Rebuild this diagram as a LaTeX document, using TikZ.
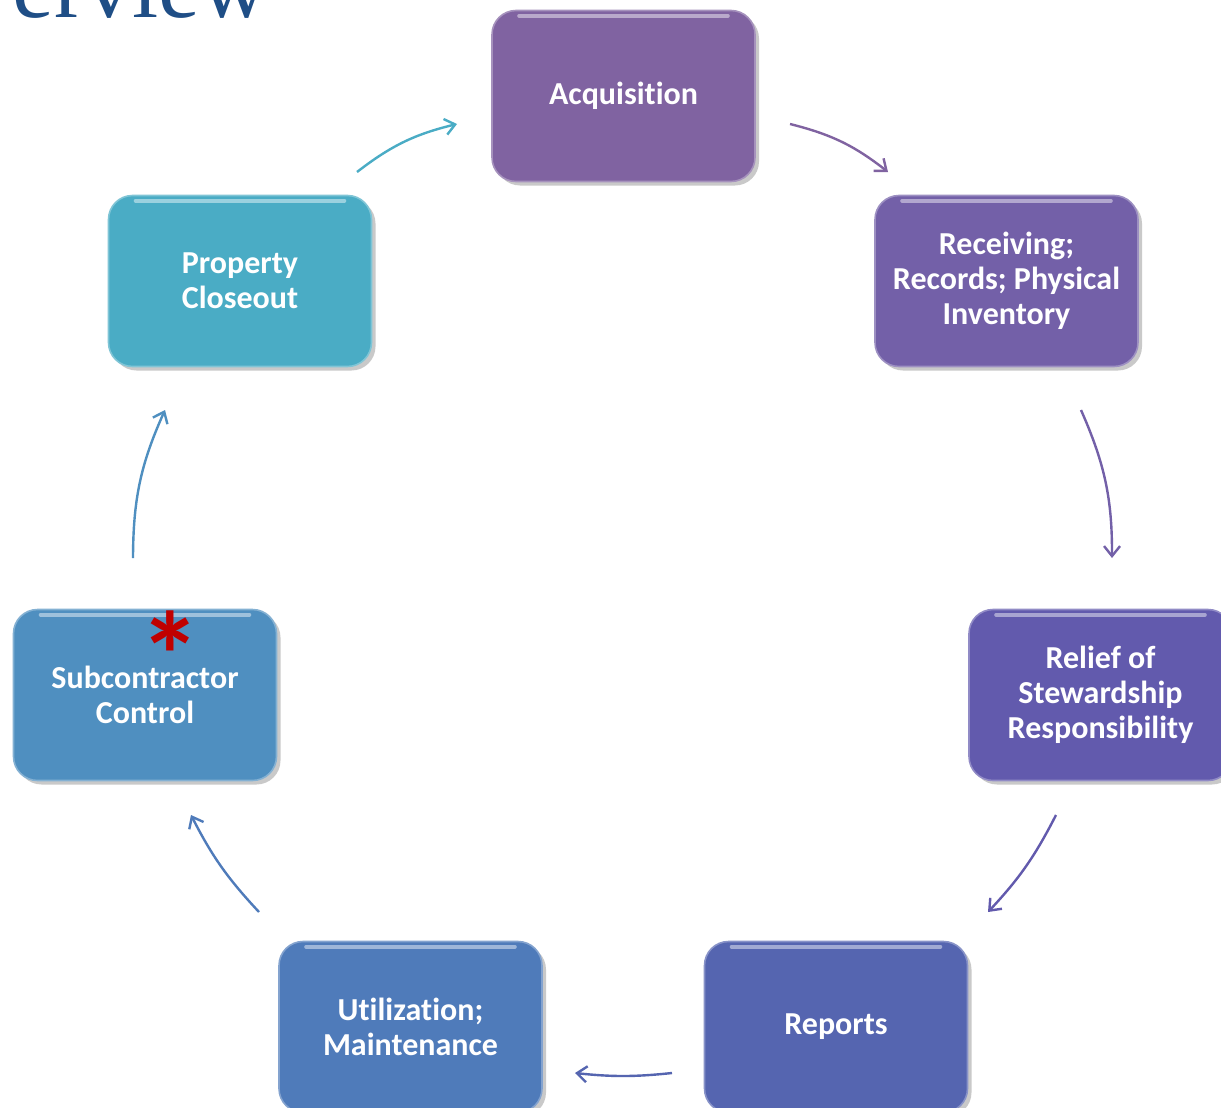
\documentclass[tikz,border=0pt]{standalone}
\usepackage{fontspec}
\setmainfont{Carlito}[Ligatures={NoCommon}]
\newfontfamily\titlefont{Liberation Serif}
\usetikzlibrary{arrows.meta,shadows}
\definecolor{cAcq}{HTML}{8063A1}
\definecolor{cRec}{HTML}{7360A8}
\definecolor{cRel}{HTML}{625AAD}
\definecolor{cRep}{HTML}{5565B0}
\definecolor{cUti}{HTML}{4F7BBA}
\definecolor{cSub}{HTML}{4F8FC0}
\definecolor{cClo}{HTML}{4AACC5}
\definecolor{cTitle}{HTML}{1F4E86}
\definecolor{cStar}{HTML}{C00000}
\tikzset{
  stepbox/.style={rounded corners=12pt, minimum width=131.5pt, minimum height=85.5pt,
    text=white, font=\bfseries\fontsize{16}{17.5}\selectfont, align=center,
    drop shadow={shadow xshift=2pt, shadow yshift=-2pt, opacity=0.35, fill=black!60},
    fill=#1, draw=#1!70!white, line width=0.8pt},
  cyc/.style={draw=#1, line width=1.2pt, -{Straight Barb[length=5pt,width=8pt]}},
  gloss/.style={draw=white, opacity=0.45, line width=2pt, line cap=round},
}
\begin{document}
\begin{tikzpicture}[x=0.5pt,y=-0.5pt]
\useasboundingbox (0,0) rectangle (1221,1108);
\clip (0,0) rectangle (1221,1108);
\fill[white] (0,0) rectangle (1221,1108);
\node[anchor=base west, inner sep=0pt, text=cTitle, font=\titlefont\fontsize{47}{47}\selectfont] (title) at (12,18) {erview};

\node[stepbox=cAcq] (acq) at (623.5,96) {Acquisition};
\node[stepbox=cRec] (rec) at (1006.5,281) {Receiving;\\Records; Physical\\Inventory};
\node[stepbox=cRel] (rel) at (1100.5,695) {Relief of\\Stewardship\\Responsibility};
\node[stepbox=cRep] (rep) at (836,1027) {Reports};
\node[stepbox=cUti] (uti) at (410.5,1027) {Utilization;\\Maintenance};
\node[stepbox=cSub] (sub) at (145,695) {Subcontractor\\Control};
\node[stepbox=cClo] (clo) at (240,281) {Property\\Closeout};

\foreach \n in {acq,rec,rel,rep,uti,sub,clo}{
  \draw[gloss] ([xshift=14pt,yshift=-3pt]\n.north west) -- ([xshift=-14pt,yshift=-3pt]\n.north east);
}

\node[text=cStar, font=\bfseries\fontsize{62}{62}\selectfont, inner sep=0pt] (star) at (170,655) {*};

\coordinate (a1) at (357,172); \coordinate (a2) at (457,124);
\coordinate (b1) at (790,124); \coordinate (b2) at (888,172);
\coordinate (c1) at (1081,410); \coordinate (c2) at (1112,558);
\coordinate (d1) at (1056,815); \coordinate (d2) at (988,912);
\coordinate (e1) at (672,1073); \coordinate (e2) at (575,1073);
\coordinate (f1) at (259,912); \coordinate (f2) at (191,815);
\coordinate (g1) at (133,558); \coordinate (g2) at (165,410);

\draw[cyc=cClo] (a1) to[bend left=12] (a2);
\draw[cyc=cAcq] (b1) to[bend left=12] (b2);
\draw[cyc=cRec] (c1) to[bend left=12] (c2);
\draw[cyc=cRel] (d1) to[bend left=8] (d2);
\draw[cyc=cRep] (e1) to[bend left=6] (e2);
\draw[cyc=cUti] (f1) to[bend left=8] (f2);
\draw[cyc=cSub] (g1) to[bend left=12] (g2);
\end{tikzpicture}
\end{document}
